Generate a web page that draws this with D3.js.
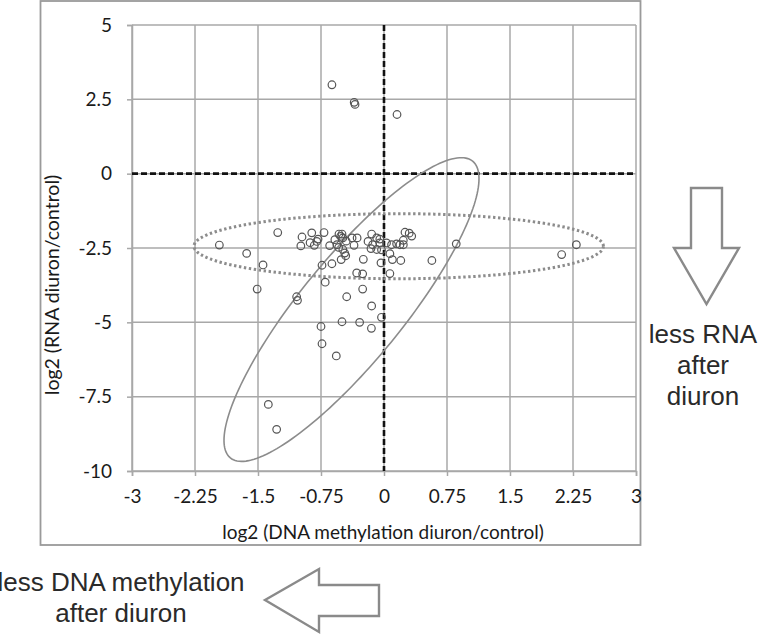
<!DOCTYPE html>
<html>
<head>
<meta charset="utf-8">
<script src="https://cdn.jsdelivr.net/npm/d3@7/dist/d3.min.js"></script>
<style>
  html, body { margin: 0; padding: 0; background: #fff; }
  svg { display: block; }
</style>
</head>
<body>
<svg id="chart" width="760" height="636"></svg>
<script>
// ---------------- data ----------------
const xTicks = [-3, -2.25, -1.5, -0.75, 0, 0.75, 1.5, 2.25, 3];
const xTickLabels = ["-3", "-2.25", "-1.5", "-0.75", "0", "0.75", "1.5", "2.25", "3"];
const yTicks = [5, 2.5, 0, -2.5, -5, -7.5, -10];
const yTickLabels = ["5", "2.5", "0", "-2.5", "-5", "-7.5", "-10"];

// log2 (DNA methylation diuron/control)
const dnaMethylation = [
  -0.62, -0.355, -0.345, 0.155,
  -1.96, -1.635, -1.265, -1.44, -1.51, -1.04, -1.03,
  -0.976, -0.99, -0.86, -0.88, -0.83, -0.80, -0.785, -0.714, -0.738, -0.70, -0.75, -0.738,
  -0.647, -0.62, -0.585, -0.56, -0.536, -0.50, -0.516, -0.54, -0.49, -0.468, -0.456, -0.51,
  -0.49, -0.45, -0.444, -0.50, -0.568, -1.377, -1.278,
  -0.38, -0.32, -0.357, -0.246, -0.325, -0.254, -0.254, -0.29, -0.15, -0.147,
  -0.147, -0.19, -0.135, -0.155, -0.087, -0.05, -0.05, -0.036, -0.03, -0.087, -0.03,
  0.03, 0.09, 0.07, 0.10, 0.15, 0.19, 0.23, 0.23, 0.25, 0.30, 0.33, 0.20, 0.07,
  0.57, 0.86, 2.115, 2.29
];
// log2 (RNA diuron/control)
const rnaExpression = [
  2.99, 2.40, 2.33, 1.99,
  -2.40, -2.68, -1.98, -3.07, -3.88, -4.14, -4.26,
  -2.13, -2.43, -1.99, -2.32, -2.41, -2.28, -2.20, -1.98, -3.08, -3.65, -5.14, -5.72,
  -2.42, -3.03, -2.22, -2.39, -2.03, -2.03, -2.11, -2.48, -2.55, -2.67, -2.76, -2.89,
  -2.16, -2.27, -4.14, -4.98, -6.13, -7.76, -8.60,
  -2.16, -2.16, -2.41, -2.88, -3.34, -3.37, -3.88, -5.00, -5.20, -4.45,
  -2.03, -2.28, -2.39, -2.52, -2.16, -2.20, -2.33, -3.00, -4.83, -2.55, -2.56,
  -2.33, -2.39, -2.69, -2.89, -2.36, -2.39, -2.39, -2.24, -1.97, -2.00, -2.10, -2.92, -3.36,
  -2.92, -2.36, -2.72, -2.39
];

// enclosing ellipses (data units)
const dottedEllipse = [0.175, -2.44, 2.437, 1.095];            // cx, cy, rx, ry
const solidEllipse = [-0.387, -4.57, 1.442, 4.99, 0.474, -1.089]; // cx, cy, major(ux,uy), minor(vx,vy)

// ---------------- drawing ----------------
const svg = d3.select("#chart");
const font = "Lato, 'Open Sans', sans-serif";
const annoFont = "'Liberation Sans', Arial, sans-serif";

const x = d3.scaleLinear().domain([-3, 3]).range([132, 636]);
const y = d3.scaleLinear().domain([-10, 5]).range([471, 25]);

// outer frame
svg.append("rect")
  .attr("x", 40.5).attr("y", 1).attr("width", 600).attr("height", 544)
  .attr("fill", "none").attr("stroke", "#9a9a9a").attr("stroke-width", 1.8);

// grid
const gridColor = "#a8a8a8";
svg.append("g").selectAll("line").data(xTicks).join("line")
  .attr("x1", d => x(d)).attr("x2", d => x(d))
  .attr("y1", y(5)).attr("y2", y(-10))
  .attr("stroke", gridColor).attr("stroke-width", 1.5);
svg.append("g").selectAll("line").data(yTicks).join("line")
  .attr("x1", x(-3)).attr("x2", x(3))
  .attr("y1", d => y(d)).attr("y2", d => y(d))
  .attr("stroke", gridColor).attr("stroke-width", 1.5);

// axes
const yAxis = d3.axisLeft(y).tickValues(yTicks)
  .tickFormat((d, i) => yTickLabels[i]).tickSize(5).tickPadding(15);
const gy = svg.append("g").attr("transform", `translate(${x(-3)},0)`).call(yAxis);
const xAxis = d3.axisBottom(x).tickValues(xTicks)
  .tickFormat((d, i) => xTickLabels[i]).tickSize(5).tickPadding(14);
const gx = svg.append("g").attr("transform", `translate(0,${y(-10)})`).call(xAxis);
[gx, gy].forEach(g => {
  g.select(".domain").attr("stroke", gridColor).attr("stroke-width", 1.5);
  g.selectAll(".tick line").attr("stroke", gridColor).attr("stroke-width", 1.5);
  g.selectAll(".tick text").attr("fill", "#1a1a1a")
    .style("font-family", font).style("font-size", "19px");
});

// zero dashed lines
svg.append("line")
  .attr("x1", x(0)).attr("x2", x(0)).attr("y1", y(5)).attr("y2", y(-10))
  .attr("stroke", "#111").attr("stroke-width", 2.6).attr("stroke-dasharray", "6,3");
svg.append("line")
  .attr("x1", x(-3)).attr("x2", x(3)).attr("y1", y(0)).attr("y2", y(0))
  .attr("stroke", "#111").attr("stroke-width", 2.6).attr("stroke-dasharray", "6,3");

// ellipses
const ts = d3.range(0, 361, 2).map(a => a * Math.PI / 180);
const line = d3.line().x(d => x(d[0])).y(d => y(d[1]));
svg.append("path")
  .attr("d", line(ts.map(t => [dottedEllipse[0] + dottedEllipse[2] * Math.cos(t),
                               dottedEllipse[1] + dottedEllipse[3] * Math.sin(t)])))
  .attr("fill", "none").attr("stroke", "#8c8c8c").attr("stroke-width", 3)
  .attr("stroke-dasharray", "2.4,2.6");
svg.append("path")
  .attr("d", line(ts.map(t => [solidEllipse[0] + solidEllipse[2] * Math.cos(t) + solidEllipse[4] * Math.sin(t),
                               solidEllipse[1] + solidEllipse[3] * Math.cos(t) + solidEllipse[5] * Math.sin(t)])))
  .attr("fill", "none").attr("stroke", "#8c8c8c").attr("stroke-width", 1.6);

// points
svg.append("g").selectAll("circle").data(dnaMethylation).join("circle")
  .attr("cx", d => x(d))
  .attr("cy", (d, i) => y(rnaExpression[i]))
  .attr("r", 3.8)
  .attr("fill", "none").attr("stroke", "#555").attr("stroke-width", 1.2);

// axis titles
svg.append("text")
  .attr("x", 383).attr("y", 539).attr("text-anchor", "middle")
  .style("font-family", font).style("font-size", "19px").attr("fill", "#1a1a1a")
  .text("log2 (DNA methylation diuron/control)");
svg.append("text")
  .attr("transform", "translate(59,285) rotate(-90)").attr("text-anchor", "middle")
  .style("font-family", font).style("font-size", "19.5px").attr("fill", "#1a1a1a")
  .text("log2 (RNA diuron/control)");

// annotation arrows
const arrowStyle = s => s.attr("fill", "#fff").attr("stroke", "#8a8a8a")
  .attr("stroke-width", 2.4).attr("stroke-linejoin", "miter");
svg.append("polygon")
  .attr("points", [[691,188],[722,188],[722,248],[739,248],[706.5,304],[674,248],[691,248]].join(" "))
  .call(arrowStyle);
svg.append("polygon")
  .attr("points", [[379,585],[379,616],[319,616],[319,632],[265,600],[319,569],[319,585]].join(" "))
  .call(arrowStyle);

// annotation text
const rightLines = ["less RNA", "after", "diuron"];
svg.append("g").selectAll("text").data(rightLines).join("text")
  .attr("x", 703).attr("y", (d, i) => 343 + i * 31)
  .attr("text-anchor", "middle")
  .style("font-family", annoFont).style("font-size", "26px").attr("fill", "#2a2a2a")
  .text(d => d);
const leftLines = ["less DNA methylation", "after diuron"];
svg.append("g").selectAll("text").data(leftLines).join("text")
  .attr("x", 121).attr("y", (d, i) => 591 + i * 31)
  .attr("text-anchor", "middle")
  .style("font-family", annoFont).style("font-size", "26px").attr("fill", "#2a2a2a")
  .text(d => d);
</script>
</body>
</html>
